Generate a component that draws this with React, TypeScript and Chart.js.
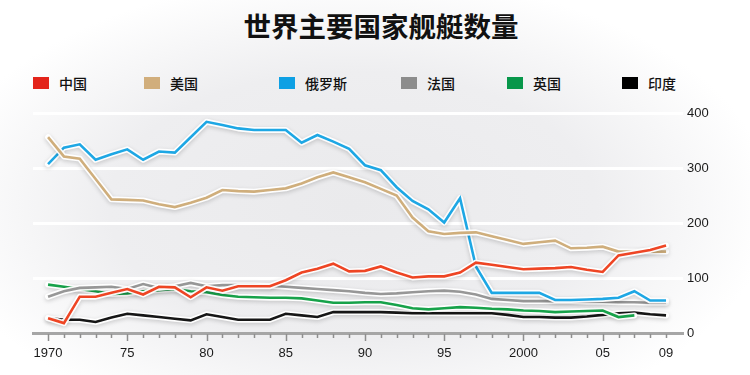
import React, { useEffect, useRef } from 'react';
import { Chart, registerables } from 'chart.js';

Chart.register(...registerables);

const years = [
  1970, 1971, 1972, 1973, 1974, 1975, 1976, 1977, 1978, 1979,
  1980, 1981, 1982, 1983, 1984, 1985, 1986, 1987, 1988, 1989,
  1990, 1991, 1992, 1993, 1994, 1995, 1996, 1997, 1998, 1999,
  2000, 2001, 2002, 2003, 2004, 2005, 2006, 2007, 2008, 2009,
];

const china = [
  27, 18, 66, 66, 73, 80, 70, 84, 83, 65,
  83, 77, 85, 85, 85, 96, 110, 117, 126, 112,
  113, 121, 110, 101, 103, 103, 110, 128, 124, 120,
  116, 117, 118, 120, 115, 111, 141, 146, 151, 159,
];

const usa = [
  356, 321, 317, 280, 243, 242, 241, 234, 229, 237,
  246, 260, 258, 257, 260, 263, 272, 283, 292, 283,
  274, 262, 250, 210, 185, 180, 182, 183, 176, 169,
  162, 165, 168, 154, 155, 157, 148, 148, 148, 148,
];

const russia = [
  307, 337, 343, 315, 325, 334, 315, 330, 328, 356,
  384, 378, 372, 369, 369, 369, 346, 360, 348, 335,
  305, 296, 265, 240, 225, 201, 245, 121, 73, 73,
  73, 73, 60, 60, 61, 62, 64, 76, 59, 59,
];

const france = [
  66, 76, 82, 83, 84, 80, 89, 82, 85, 91,
  85, 87, 87, 87, 86, 84, 82, 80, 78, 76,
  73, 71, 72, 74, 76, 77, 75, 70, 62, 60,
  58, 58, 58, 58, 57, 57, 56, 56, 55, 55,
];

const uk = [
  88, 84, 80, 76, 71, 72, 76, 78, 80, 76,
  74, 69, 66, 65, 64, 64, 63, 59, 55, 55,
  56, 56, 51, 45, 43, 45, 47, 46, 44, 43,
  41, 40, 38, 39, 40, 41, 29, 32, null, null,
];

const india = [
  27, 24, 24, 20, 28, 35, 32, 29, 26, 23,
  34, 29, 24, 24, 24, 35, 32, 29, 38, 38,
  38, 38, 37, 36, 36, 36, 36, 36, 36, 33,
  29, 29, 28, 28, 30, 33, 36, 37, 34, 32,
];

const seriesNames = ['中国', '美国', '俄罗斯', '法国', '英国', '印度'];
const seriesValues = [china, usa, russia, france, uk, india];
const lineColors = ['#ee4524', '#cfae7c', '#1ea7e4', '#979797', '#17a24a', '#161616'];
const legendColors = ['#e3241b', '#d1ae7c', '#0ea0e4', '#8c8c8c', '#07974a', '#000000'];
const legendX = [33, 144, 279, 401, 507, 622];

const labelYears = [1970, 1975, 1980, 1985, 1990, 1995, 2000, 2005, 2009];
const tickLabels = ['1970', '75', '80', '85', '90', '95', '2000', '05', '09'];
const yTicks = [0, 100, 200, 300, 400];

const title = '世界主要国家舰艇数量';

const haloPlugin = {
  id: 'halo',
  beforeDatasetDraw(chart: any, args: any) {
    const ctx = chart.ctx;
    const pts = args.meta.data;
    ctx.save();
    ctx.beginPath();
    let started = false;
    for (const p of pts) {
      if (p.skip) {
        started = false;
        continue;
      }
      if (!started) {
        ctx.moveTo(p.x, p.y);
        started = true;
      } else {
        ctx.lineTo(p.x, p.y);
      }
    }
    ctx.strokeStyle = 'rgba(255,255,255,0.95)';
    ctx.lineWidth = 6;
    ctx.lineJoin = 'round';
    ctx.lineCap = 'round';
    ctx.shadowColor = 'rgba(0,0,0,0.18)';
    ctx.shadowBlur = 4;
    ctx.shadowOffsetY = 1.5;
    ctx.stroke();
    ctx.restore();
  },
};

const xTickPlugin = {
  id: 'xMinorTicks',
  afterDraw(chart: any) {
    const ctx = chart.ctx;
    const xs = chart.scales.x;
    const bottom = chart.chartArea.bottom;
    ctx.save();
    ctx.strokeStyle = '#8e8e8e';
    ctx.lineWidth = 1.5;
    for (const yr of years) {
      const px = Math.round(xs.getPixelForValue(yr)) + 0.5;
      const major = labelYears.indexOf(yr) >= 0 && yr % 5 === 0;
      ctx.beginPath();
      ctx.moveTo(px, bottom + 1);
      ctx.lineTo(px, bottom + (major ? 8 : 5));
      ctx.stroke();
    }
    ctx.restore();
  },
};

export default function App() {
  const ref = useRef<HTMLCanvasElement | null>(null);

  useEffect(() => {
    if (!ref.current) return;
    const datasets = seriesNames.map((name, i) => ({
      label: name,
      data: years.map((yr, j) => ({ x: yr, y: seriesValues[i][j] })),
      borderColor: lineColors[i],
      backgroundColor: lineColors[i],
      borderWidth: 2.6,
      pointRadius: 0,
      tension: 0,
      spanGaps: false,
      borderJoinStyle: 'miter' as const,
    }));
    const chart = new Chart(ref.current, {
      type: 'line',
      data: { datasets },
      plugins: [haloPlugin, xTickPlugin],
      options: {
        animation: false,
        responsive: false,
        maintainAspectRatio: false,
        layout: { padding: { left: 33, right: 20, top: 113, bottom: 0 } },
        plugins: {
          legend: { display: false },
          title: { display: false },
          tooltip: { enabled: false },
        },
        scales: {
          x: {
            type: 'linear',
            min: 1969.05,
            max: 2010.07,
            afterBuildTicks: (s: any) => {
              s.ticks = labelYears.map((v) => ({ value: v }));
            },
            afterFit: (s: any) => {
              s.height = 42;
            },
            grid: { display: false, drawTicks: false },
            border: { display: true, color: '#a6a6a6', width: 3 },
            ticks: {
              autoSkip: false,
              maxRotation: 0,
              padding: 13,
              color: '#1a1a1a',
              font: { family: '"Liberation Sans", Arial, sans-serif', size: 13 },
              callback: (v: any) => {
                const k = labelYears.indexOf(Number(v));
                return k >= 0 ? tickLabels[k] : '';
              },
            },
          },
          y: {
            type: 'linear',
            position: 'right',
            min: 0,
            max: 400,
            afterBuildTicks: (s: any) => {
              s.ticks = yTicks.map((v) => ({ value: v }));
            },
            afterFit: (s: any) => {
              s.width = 47;
            },
            grid: {
              drawTicks: false,
              lineWidth: 3,
              color: (c: any) => (c.tick && c.tick.value === 0 ? 'rgba(0,0,0,0)' : '#ffffff'),
            },
            border: { display: false },
            ticks: {
              padding: 4,
              crossAlign: 'near',
              color: '#1a1a1a',
              font: { family: '"Liberation Sans", Arial, sans-serif', size: 13 },
            },
          },
        },
      },
    });
    return () => chart.destroy();
  }, []);

  return (
    <div
      style={{
        position: 'absolute',
        left: 0,
        top: 0,
        width: 750,
        height: 375,
        overflow: 'hidden',
        background:
          'radial-gradient(ellipse 56% 62% at 47% 55%, #eaeaec 0%, #eeeef0 58%, #ffffff 100%)',
      }}
    >
      <div
        style={{
          position: 'absolute',
          left: 6,
          top: 9,
          width: 750,
          textAlign: 'center',
          whiteSpace: 'nowrap',
          fontFamily: '"Noto Sans CJK SC", sans-serif',
          fontWeight: 700,
          fontSize: 27.5,
          lineHeight: '32px',
          color: '#111',
        }}
      >
        {title}
      </div>
      {seriesNames.map((name, i) => (
        <div
          key={name}
          style={{
            position: 'absolute',
            left: legendX[i],
            top: 74,
            height: 18,
            display: 'flex',
            alignItems: 'center',
            fontFamily: '"Noto Sans CJK SC", sans-serif',
            fontWeight: 500,
            fontSize: 14,
            color: '#111',
            whiteSpace: 'nowrap',
          }}
        >
          <span
            style={{
              display: 'inline-block',
              width: 16,
              height: 12,
              background: legendColors[i],
              marginRight: 10,
            }}
          />
          <span>{name}</span>
        </div>
      ))}
      <canvas
        ref={ref}
        width={750}
        height={375}
        style={{ position: 'absolute', left: 0, top: 0, width: 750, height: 375 }}
      />
    </div>
  );
}
